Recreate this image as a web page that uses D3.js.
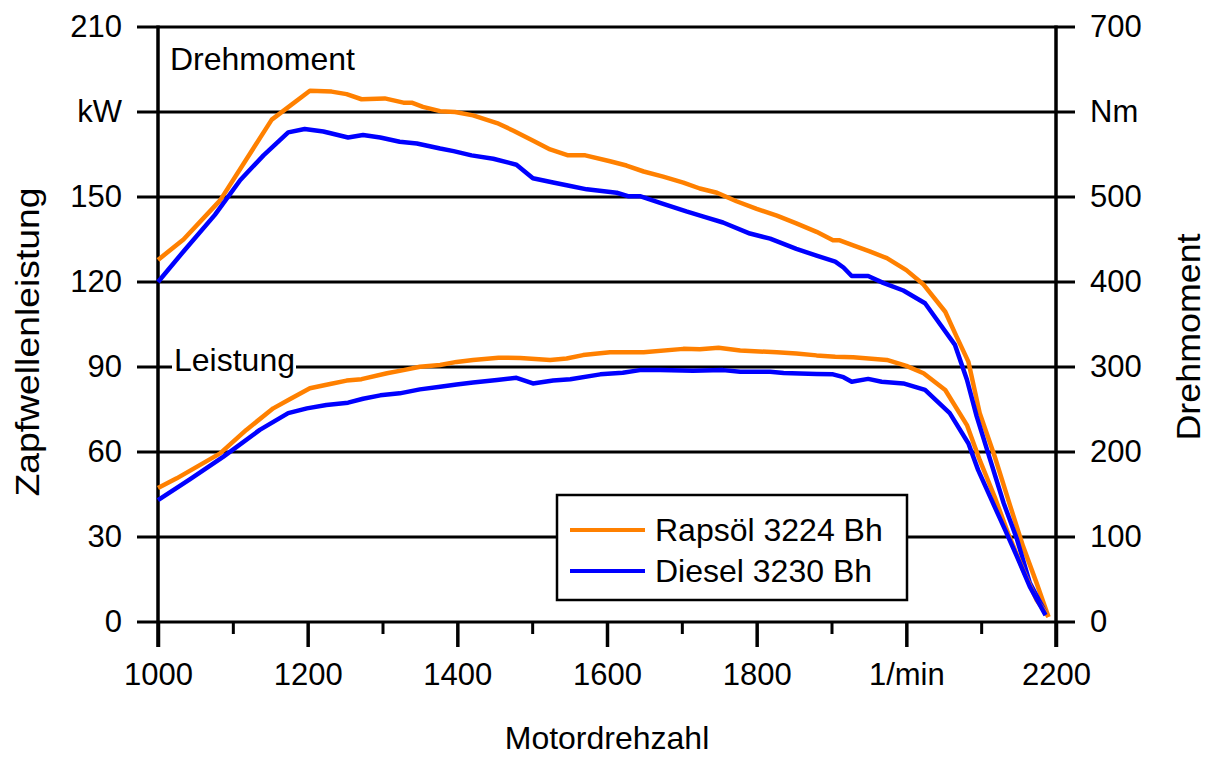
<!DOCTYPE html>
<html>
<head>
<meta charset="utf-8">
<script src="https://cdn.jsdelivr.net/npm/d3@7"></script>
<style>
  body { margin: 0; background: #fff; }
  text { font-family: "Liberation Sans", Arial, sans-serif; fill: #000; }
</style>
</head>
<body>
<div id="chart"></div>
<script>
// x: Motordrehzahl (1/min)
const kwTicks = [0, 30, 60, 90, 120, 150, 180, 210];
const kwLabels = ["0", "30", "60", "90", "120", "150", "kW", "210"];
const nmTicks = [0, 100, 200, 300, 400, 500, 600, 700];
const nmLabels = ["0", "100", "200", "300", "400", "500", "Nm", "700"];
const rpmTicks = [1000, 1200, 1400, 1600, 1800, 2000, 2200];
const rpmLabels = ["1000", "1200", "1400", "1600", "1800", "1/min", "2200"];
const rpmMinor = [1100, 1300, 1500, 1700, 1900, 2100];

// Rapsöl 3224 Bh - Drehmoment (Nm)
const rapsNmRpm = [1000, 1034, 1083, 1152, 1203, 1232, 1252, 1272, 1303, 1328, 1339, 1354, 1377, 1397, 1421, 1453, 1475, 1502, 1524, 1548, 1571, 1604, 1626, 1649, 1675, 1702, 1724, 1747, 1773, 1800, 1827, 1853, 1880, 1902, 1911, 1929, 1951, 1974, 2000, 2023, 2052, 2067, 2083, 2098, 2118, 2139, 2156, 2174, 2190];
const rapsNm = [426, 450, 496, 591, 625, 624, 621, 615, 616, 611, 611, 606, 601, 600, 596, 587, 578, 566, 556, 549, 549, 542, 537, 530, 524, 517, 510, 505, 495, 486, 478, 469, 459, 449, 449, 443, 436, 428, 414, 397, 365, 336, 306, 246, 195, 136, 89, 46, 6];

// Diesel 3230 Bh - Drehmoment (Nm)
const dieselNmRpm = [1000, 1036, 1076, 1110, 1141, 1174, 1196, 1221, 1254, 1274, 1297, 1323, 1346, 1377, 1395, 1419, 1448, 1479, 1501, 1528, 1551, 1573, 1613, 1628, 1644, 1671, 1706, 1729, 1755, 1791, 1818, 1853, 1880, 1905, 1916, 1927, 1949, 1969, 1996, 2025, 2043, 2065, 2081, 2094, 2112, 2130, 2148, 2165, 2188];
const dieselNm = [400, 438, 479, 520, 549, 576, 580, 577, 570, 573, 570, 565, 563, 557, 554, 549, 545, 538, 522, 517, 513, 509, 505, 501, 501, 493, 483, 477, 470, 457, 451, 439, 431, 424, 417, 407, 407, 399, 390, 375, 353, 326, 285, 242, 191, 140, 97, 46, 8];

// Rapsöl 3224 Bh - Leistung (kW)
const rapsKwRpm = [1000, 1025, 1083, 1118, 1154, 1176, 1203, 1230, 1252, 1272, 1306, 1328, 1350, 1377, 1399, 1421, 1455, 1484, 1524, 1546, 1568, 1604, 1649, 1702, 1724, 1749, 1778, 1827, 1853, 1880, 1905, 1929, 1974, 2000, 2023, 2052, 2081, 2098, 2118, 2136, 2156, 2174, 2190];
const rapsKw = [47.3, 50.7, 59.5, 67.8, 75.4, 78.6, 82.5, 84, 85.2, 85.7, 87.8, 88.9, 90.1, 90.7, 91.8, 92.5, 93.3, 93.2, 92.5, 93, 94.2, 95.2, 95.2, 96.4, 96.3, 96.8, 95.8, 95.2, 94.8, 94.1, 93.6, 93.4, 92.5, 90.4, 87.8, 81.9, 69.5, 57.2, 44.2, 31.3, 18.4, 7.8, 1.9];

// Diesel 3230 Bh - Leistung (kW)
const dieselKwRpm = [1000, 1043, 1087, 1136, 1174, 1199, 1225, 1254, 1274, 1297, 1323, 1350, 1377, 1399, 1421, 1453, 1479, 1501, 1528, 1551, 1591, 1621, 1644, 1671, 1715, 1755, 1778, 1818, 1836, 1880, 1902, 1916, 1927, 1949, 1967, 1996, 2025, 2058, 2083, 2096, 2114, 2132, 2148, 2165, 2186];
const dieselKw = [43, 50.4, 58.3, 67.8, 73.7, 75.4, 76.6, 77.4, 78.8, 80, 80.7, 82.1, 83, 83.8, 84.5, 85.4, 86.2, 84.2, 85.2, 85.7, 87.4, 88, 88.9, 88.9, 88.7, 88.9, 88.3, 88.3, 87.9, 87.5, 87.4, 86.4, 84.8, 85.8, 84.8, 84.2, 81.9, 73.7, 63, 53.6, 43, 32.5, 23, 12.5, 2.4];

const seriesNames = ["Rapsöl 3224 Bh", "Diesel 3230 Bh"];
const colors = ["#FF8000", "#0000FF"];

const width = 1212, height = 757;
const plotL = 158, plotR = 1056, plotT = 27, plotB = 622;
const tickFont = 31, labelFont = 32;

const svg = d3.select("#chart").append("svg")
  .attr("width", width)
  .attr("height", height);

const x = d3.scaleLinear().domain([1000, 2200]).range([plotL, plotR]);
const yKw = d3.scaleLinear().domain([0, 210]).range([plotB, plotT]);
const yNm = d3.scaleLinear().domain([0, 700]).range([plotB, plotT]);

// horizontal grid lines (stick out past both axes as ticks)
svg.append("g")
  .selectAll("line")
  .data(kwTicks)
  .join("line")
  .attr("x1", plotL - 21)
  .attr("x2", plotR + 19)
  .attr("y1", d => yKw(d))
  .attr("y2", d => yKw(d))
  .attr("stroke", "#000")
  .attr("stroke-width", 3);

// left axis labels
const leftAxis = svg.append("g")
  .attr("transform", `translate(${plotL},0)`)
  .call(d3.axisLeft(yKw).tickValues(kwTicks).tickSize(21).tickPadding(15)
    .tickFormat((d, i) => kwLabels[i]));
leftAxis.select(".domain").remove();
leftAxis.selectAll("line").remove();
leftAxis.selectAll("text").style("font-size", tickFont + "px");
leftAxis.attr("font-family", null);

// right axis labels
const rightAxis = svg.append("g")
  .attr("transform", `translate(${plotR},0)`)
  .call(d3.axisRight(yNm).tickValues(nmTicks).tickSize(19).tickPadding(15)
    .tickFormat((d, i) => nmLabels[i]));
rightAxis.select(".domain").remove();
rightAxis.selectAll("line").remove();
rightAxis.selectAll("text").style("font-size", tickFont + "px");
rightAxis.attr("font-family", null);

// bottom axis
const xAxis = svg.append("g")
  .attr("transform", `translate(0,${plotB})`)
  .call(d3.axisBottom(x).tickValues(rpmTicks).tickSize(25).tickPadding(16)
    .tickFormat((d, i) => rpmLabels[i]));
xAxis.select(".domain").remove();
xAxis.selectAll("line").attr("stroke-width", 3.5);
xAxis.selectAll("text").style("font-size", tickFont + "px");
xAxis.attr("font-family", null);

const xMinor = svg.append("g")
  .attr("transform", `translate(0,${plotB})`)
  .call(d3.axisBottom(x).tickValues(rpmMinor).tickSize(12).tickFormat(""));
xMinor.select(".domain").remove();
xMinor.selectAll("line").attr("stroke-width", 3);

// vertical axis lines
svg.append("g")
  .selectAll("line")
  .data([1000, 2200])
  .join("line")
  .attr("x1", d => x(d))
  .attr("x2", d => x(d))
  .attr("y1", plotT - 1.5)
  .attr("y2", plotB + 25)
  .attr("stroke", "#000")
  .attr("stroke-width", 3.5);

// "Leistung" label sits on the 90 grid line with a white backing
const leist = svg.append("g");
leist.append("rect")
  .attr("x", 172).attr("y", 345).attr("width", 124).attr("height", 36)
  .attr("fill", "#fff");
leist.append("text")
  .attr("x", 174).attr("y", 371)
  .style("font-size", labelFont + "px")
  .text("Leistung");

svg.append("text")
  .attr("x", 170).attr("y", 70)
  .style("font-size", labelFont + "px")
  .text("Drehmoment");

// curves
const line = (ys) => d3.line().x(d => x(d[0])).y(d => ys(d[1]));
const curves = [
  { rpm: rapsNmRpm, vals: rapsNm, scale: yNm, color: colors[0] },
  { rpm: dieselNmRpm, vals: dieselNm, scale: yNm, color: colors[1] },
  { rpm: rapsKwRpm, vals: rapsKw, scale: yKw, color: colors[0] },
  { rpm: dieselKwRpm, vals: dieselKw, scale: yKw, color: colors[1] }
];
svg.append("g")
  .selectAll("path")
  .data(curves)
  .join("path")
  .attr("d", c => line(c.scale)(c.rpm.map((r, i) => [r, c.vals[i]])))
  .attr("fill", "none")
  .attr("stroke", c => c.color)
  .attr("stroke-width", 4.5)
  .attr("stroke-linejoin", "round");

// legend
const legend = svg.append("g").attr("transform", "translate(557,495)");
legend.append("rect")
  .attr("width", 350).attr("height", 105)
  .attr("fill", "#fff")
  .attr("stroke", "#000")
  .attr("stroke-width", 2.5);
const items = legend.selectAll("g.item")
  .data(seriesNames)
  .join("g")
  .attr("class", "item")
  .attr("transform", (d, i) => `translate(0,${35 + i * 41})`);
items.append("line")
  .attr("x1", 13).attr("x2", 88)
  .attr("stroke", (d, i) => colors[i])
  .attr("stroke-width", 4);
items.append("text")
  .attr("x", 98).attr("y", 11)
  .style("font-size", labelFont + "px")
  .text(d => d);

// axis titles
svg.append("text")
  .attr("transform", "translate(39,342) rotate(-90)")
  .attr("text-anchor", "middle")
  .attr("textLength", 309)
  .attr("lengthAdjust", "spacingAndGlyphs")
  .style("font-size", "33px")
  .text("Zapfwellenleistung");

svg.append("text")
  .attr("transform", "translate(1200,337) rotate(-90)")
  .attr("text-anchor", "middle")
  .attr("textLength", 207)
  .attr("lengthAdjust", "spacingAndGlyphs")
  .style("font-size", "34px")
  .text("Drehmoment");

svg.append("text")
  .attr("x", 607).attr("y", 749)
  .attr("text-anchor", "middle")
  .style("font-size", labelFont + "px")
  .text("Motordrehzahl");
</script>
</body>
</html>
